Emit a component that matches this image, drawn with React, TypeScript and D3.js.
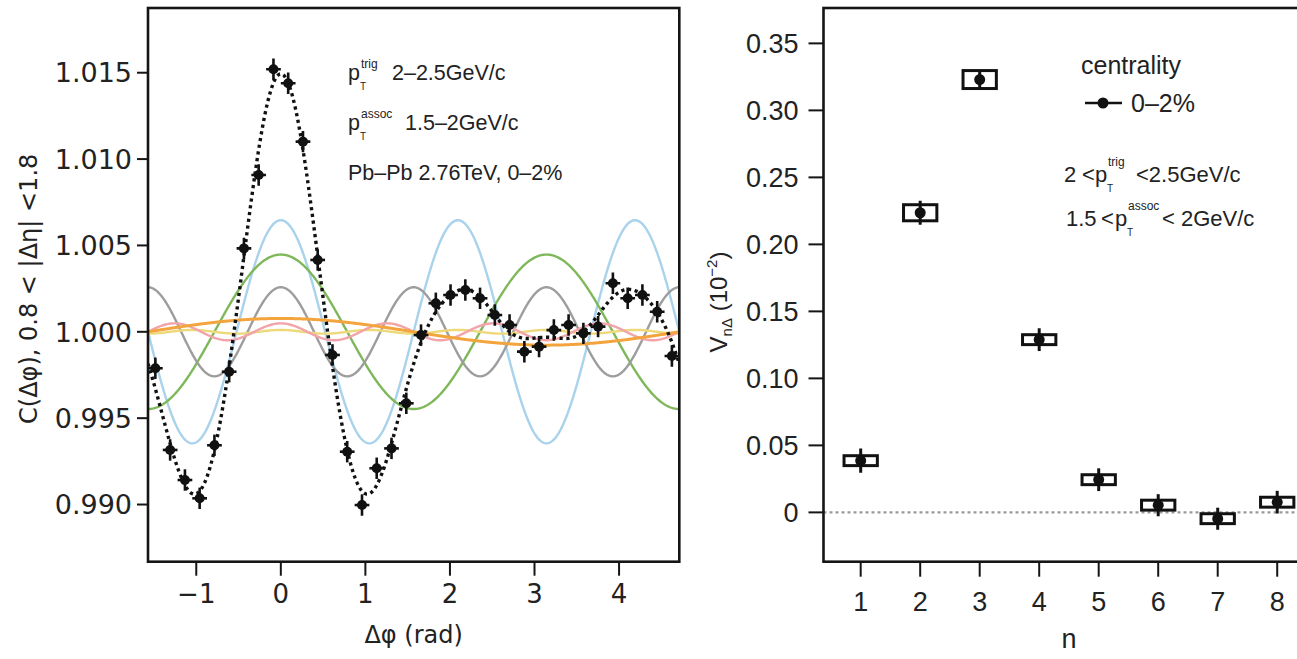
import React from 'react';
import * as d3 from 'd3';

// ---------- Left panel data: C(Δφ) ----------
const dphiBins = [
  -1.484, -1.309, -1.134, -0.960, -0.785, -0.611, -0.436, -0.262, -0.087,
  0.087, 0.262, 0.436, 0.611, 0.785, 0.960, 1.134, 1.309, 1.484,
  1.658, 1.833, 2.007, 2.182, 2.356, 2.531, 2.705, 2.880, 3.054,
  3.229, 3.403, 3.578, 3.752, 3.927, 4.102, 4.276, 4.451, 4.625,
];
const corrValues = [
  0.99789, 0.99316, 0.99142, 0.99036, 0.99343, 0.99769, 1.00483, 1.00908, 1.0152,
  1.01439, 1.01101, 1.00416, 0.99866, 0.99306, 0.98997, 0.9921, 0.99325, 0.99586,
  0.99981, 1.00165, 1.00213, 1.00242, 1.00194, 1.00097, 1.00039, 0.99885, 0.99914,
  1.0001, 1.00039, 0.99991, 1.0003, 1.00281, 1.00194, 1.00213, 1.00116, 0.9986,
];
const corrErr = 0.00062;
const binHalfWidth = 0.087;

// ---------- Right panel data: V_nΔ (10^-2) ----------
const harmonicN = [1, 2, 3, 4, 5, 6, 7, 8];
const vnDelta = [0.0386, 0.2236, 0.323, 0.1289, 0.0244, 0.0054, -0.0047, 0.0076];
const vnStat = [0.009, 0.009, 0.006, 0.0085, 0.0085, 0.0082, 0.0082, 0.0085];
const vnSyst = [0.0037, 0.006, 0.0067, 0.0037, 0.0037, 0.0037, 0.0037, 0.0037];

// harmonics drawn in the left panel (order = drawing order)
const drawnHarmonics = [3, 2, 4, 6, 5, 1];
const harmonicColors: Record<number, string> = {
  1: '#f3a43c',
  2: '#7fb85a',
  3: '#a9d2ec',
  4: '#9d9d9d',
  5: '#f2a4aa',
  6: '#eed97a',
};

// ---------- ticks ----------
const leftYTicks = [0.99, 0.995, 1.0, 1.005, 1.01, 1.015];
const leftXTicks = [-1, 0, 1, 2, 3, 4];
const rightYTicks = [0, 0.05, 0.1, 0.15, 0.2, 0.25, 0.3, 0.35];
const rightXTicks = [1, 2, 3, 4, 5, 6, 7, 8];

const W = 1297;
const H = 659;

const LEFT = { x0: 148, x1: 679.3, y0: 8, y1: 561.7 };
const RIGHT = { x0: 823.5, x1: 1314.4, y0: 8, y1: 561.7 };

const dejavu = '"DejaVu Sans", Verdana, sans-serif';
const lib = '"Liberation Sans", Arial, Helvetica, sans-serif';

export default function App() {
  const xL = d3.scaleLinear().domain([-Math.PI / 2, (3 * Math.PI) / 2]).range([LEFT.x0, LEFT.x1]);
  const yL = d3.scaleLinear().domain([0.98669, 1.018747]).range([LEFT.y1, LEFT.y0]);
  const xR = d3.scaleLinear().domain([0.375, 8.625]).range([RIGHT.x0, RIGHT.x1]);
  const yR = d3.scaleLinear().domain([-0.0368, 0.3764]).range([RIGHT.y1, RIGHT.y0]);

  // model curves from the measured V_nΔ (units 10^-2)
  const samples = d3.range(0, 601).map((i) => -Math.PI / 2 + (i / 600) * 2 * Math.PI);
  const vOf = (n: number) => vnDelta[harmonicN.indexOf(n)] / 100;
  const line = d3
    .line<[number, number]>()
    .x((d) => xL(d[0]))
    .y((d) => yL(d[1]));
  const harmonicPath = (n: number) =>
    line(samples.map((p) => [p, 1 + 2 * vOf(n) * Math.cos(n * p)] as [number, number]));
  const fitPath = line(
    samples.map(
      (p) =>
        [p, 1 + 2 * d3.sum(harmonicN, (n, i) => (vnDelta[i] / 100) * Math.cos(n * p))] as [
          number,
          number
        ]
    )
  );

  const frame = '#151515';
  const ink = '#222';

  return (
    <svg
      width={W}
      height={H}
      style={{ position: 'absolute', left: 0, top: 0, background: '#fff' }}
      xmlns="http://www.w3.org/2000/svg"
    >
      <defs>
        <clipPath id="clipL">
          <rect x={LEFT.x0} y={LEFT.y0} width={LEFT.x1 - LEFT.x0} height={LEFT.y1 - LEFT.y0} />
        </clipPath>
        <clipPath id="clipR">
          <rect x={RIGHT.x0} y={RIGHT.y0} width={RIGHT.x1 - RIGHT.x0} height={RIGHT.y1 - RIGHT.y0} />
        </clipPath>
      </defs>
      <rect x={0} y={0} width={W} height={H} fill="#fff" />

      {/* ================= LEFT PANEL ================= */}
      <g clipPath="url(#clipL)">
        {drawnHarmonics.map((n) => (
          <path
            key={n}
            d={harmonicPath(n) || ''}
            fill="none"
            stroke={harmonicColors[n]}
            strokeWidth={n === 1 ? 3 : 2.4}
          />
        ))}
        <path
          d={fitPath || ''}
          fill="none"
          stroke="#111"
          strokeWidth={3.4}
          strokeDasharray="3.2,3.6"
        />
        {dphiBins.map((x, i) => (
          <g key={i}>
            <line
              x1={xL(x - binHalfWidth)}
              x2={xL(x + binHalfWidth)}
              y1={yL(corrValues[i])}
              y2={yL(corrValues[i])}
              stroke="#111"
              strokeWidth={2.6}
            />
            <line
              x1={xL(x)}
              x2={xL(x)}
              y1={yL(corrValues[i] - corrErr)}
              y2={yL(corrValues[i] + corrErr)}
              stroke="#111"
              strokeWidth={2.6}
            />
            <circle cx={xL(x)} cy={yL(corrValues[i])} r={5} fill="#111" />
          </g>
        ))}
      </g>
      <rect
        x={LEFT.x0}
        y={LEFT.y0}
        width={LEFT.x1 - LEFT.x0}
        height={LEFT.y1 - LEFT.y0}
        fill="none"
        stroke={frame}
        strokeWidth={2.6}
      />
      {/* left y axis */}
      {leftYTicks.map((t) => (
        <g key={t}>
          <line x1={LEFT.x0 - 11} x2={LEFT.x0} y1={yL(t)} y2={yL(t)} stroke={frame} strokeWidth={2} />
          <text
            x={LEFT.x0 - 16}
            y={yL(t)}
            dy="0.36em"
            textAnchor="end"
            fontFamily={dejavu}
            fontSize={27}
            fill={ink}
          >
            {d3.format('.3f')(t)}
          </text>
        </g>
      ))}
      {/* left x axis */}
      {leftXTicks.map((t) => (
        <g key={t}>
          <line x1={xL(t)} x2={xL(t)} y1={LEFT.y1} y2={LEFT.y1 + 14} stroke={frame} strokeWidth={2} />
          <text x={xL(t)} y={603} textAnchor="middle" fontFamily={dejavu} fontSize={26} fill={ink}>
            {t < 0 ? `−${Math.abs(t)}` : `${t}`}
          </text>
        </g>
      ))}
      <text
        x={(LEFT.x0 + LEFT.x1) / 2}
        y={643}
        textAnchor="middle"
        fontFamily={dejavu}
        fontSize={24}
        fill={ink}
      >
        Δφ (rad)
      </text>
      <text
        transform={`translate(37, ${(LEFT.y0 + LEFT.y1) / 2 + 4}) rotate(-90)`}
        textAnchor="middle"
        fontFamily={dejavu}
        fontSize={24}
        fill={ink}
      >
        C(Δφ),  0.8 &lt; |Δη| &lt;1.8
      </text>

      {/* left annotations */}
      <g fontFamily={lib} fill={ink}>
        <text x={348} y={80} fontSize={21.5}>p</text>
        <text x={360} y={90} fontSize={10}>T</text>
        <text x={361} y={68} fontSize={12}>trig</text>
        <text x={392} y={80} fontSize={21.5}>2–2.5GeV/c</text>

        <text x={348} y={130} fontSize={21.5}>p</text>
        <text x={360} y={140} fontSize={10}>T</text>
        <text x={361} y={118} fontSize={12}>assoc</text>
        <text x={405} y={130} fontSize={21.5}>1.5–2GeV/c</text>

        <text x={348} y={180} fontSize={21.5}>Pb–Pb 2.76TeV, 0–2%</text>
      </g>

      {/* ================= RIGHT PANEL ================= */}
      <g clipPath="url(#clipR)">
        <line
          x1={RIGHT.x0}
          x2={RIGHT.x1}
          y1={yR(0)}
          y2={yR(0)}
          stroke="#9a9a9a"
          strokeWidth={2.4}
          strokeDasharray="3,3"
        />
        {harmonicN.map((n, i) => (
          <g key={n}>
            <rect
              x={xR(n - 0.28)}
              y={yR(vnDelta[i] + vnSyst[i])}
              width={xR(n + 0.28) - xR(n - 0.28)}
              height={yR(vnDelta[i] - vnSyst[i]) - yR(vnDelta[i] + vnSyst[i])}
              fill="#fff"
              stroke="#111"
              strokeWidth={3}
            />
            <line
              x1={xR(n)}
              x2={xR(n)}
              y1={yR(vnDelta[i] - vnStat[i])}
              y2={yR(vnDelta[i] + vnStat[i])}
              stroke="#111"
              strokeWidth={3}
            />
            <circle cx={xR(n)} cy={yR(vnDelta[i])} r={5.5} fill="#111" />
          </g>
        ))}
      </g>
      <rect
        x={RIGHT.x0}
        y={RIGHT.y0}
        width={RIGHT.x1 - RIGHT.x0}
        height={RIGHT.y1 - RIGHT.y0}
        fill="none"
        stroke={frame}
        strokeWidth={2.6}
      />
      {rightYTicks.map((t) => (
        <g key={t}>
          <line x1={RIGHT.x0 - 15} x2={RIGHT.x0} y1={yR(t)} y2={yR(t)} stroke={frame} strokeWidth={2} />
          <text
            x={RIGHT.x0 - 25}
            y={yR(t)}
            dy="0.36em"
            textAnchor="end"
            fontFamily={lib}
            fontSize={27}
            fill={ink}
          >
            {t === 0 ? '0' : d3.format('.2f')(t)}
          </text>
        </g>
      ))}
      {rightXTicks.map((t) => (
        <g key={t}>
          <line x1={xR(t)} x2={xR(t)} y1={RIGHT.y1} y2={RIGHT.y1 + 15} stroke={frame} strokeWidth={2} />
          <text x={xR(t)} y={611} textAnchor="middle" fontFamily={lib} fontSize={27} fill={ink}>
            {t}
          </text>
        </g>
      ))}
      <text x={xR(4.5)} y={648} textAnchor="middle" fontFamily={lib} fontSize={27} fill={ink}>
        n
      </text>
      <text
        transform={`translate(727, 302) rotate(-90)`}
        textAnchor="middle"
        fontFamily={lib}
        fontSize={24}
        fill={ink}
      >
        <tspan>V</tspan>
        <tspan fontSize={15} dy={5}>nΔ</tspan>
        <tspan dy={-5}> (10</tspan>
        <tspan fontSize={15} dy={-10}>−2</tspan>
        <tspan dy={10}>)</tspan>
      </text>

      {/* legend */}
      <g fontFamily={lib} fill={ink}>
        <text x={1081} y={74} fontSize={25}>centrality</text>
        <line x1={1085} x2={1122} y1={103} y2={103} stroke="#111" strokeWidth={2.5} />
        <circle cx={1103} cy={103} r={5.5} fill="#111" />
        <text x={1131} y={112} fontSize={25}>0–2%</text>

        <text x={1064} y={182} fontSize={22}>2</text>
        <text x={1082} y={182} fontSize={22}>&lt;</text>
        <text x={1095} y={182} fontSize={22}>p</text>
        <text x={1107} y={192} fontSize={10}>T</text>
        <text x={1108} y={166} fontSize={12}>trig</text>
        <text x={1136} y={182} fontSize={22}>&lt;2.5GeV/c</text>

        <text x={1066} y={226} fontSize={22}>1.5</text>
        <text x={1101} y={226} fontSize={22}>&lt;</text>
        <text x={1115} y={226} fontSize={22}>p</text>
        <text x={1127} y={236} fontSize={10}>T</text>
        <text x={1128} y={210} fontSize={12}>assoc</text>
        <text x={1162} y={226} fontSize={22}>&lt; 2GeV/c</text>
      </g>
    </svg>
  );
}
